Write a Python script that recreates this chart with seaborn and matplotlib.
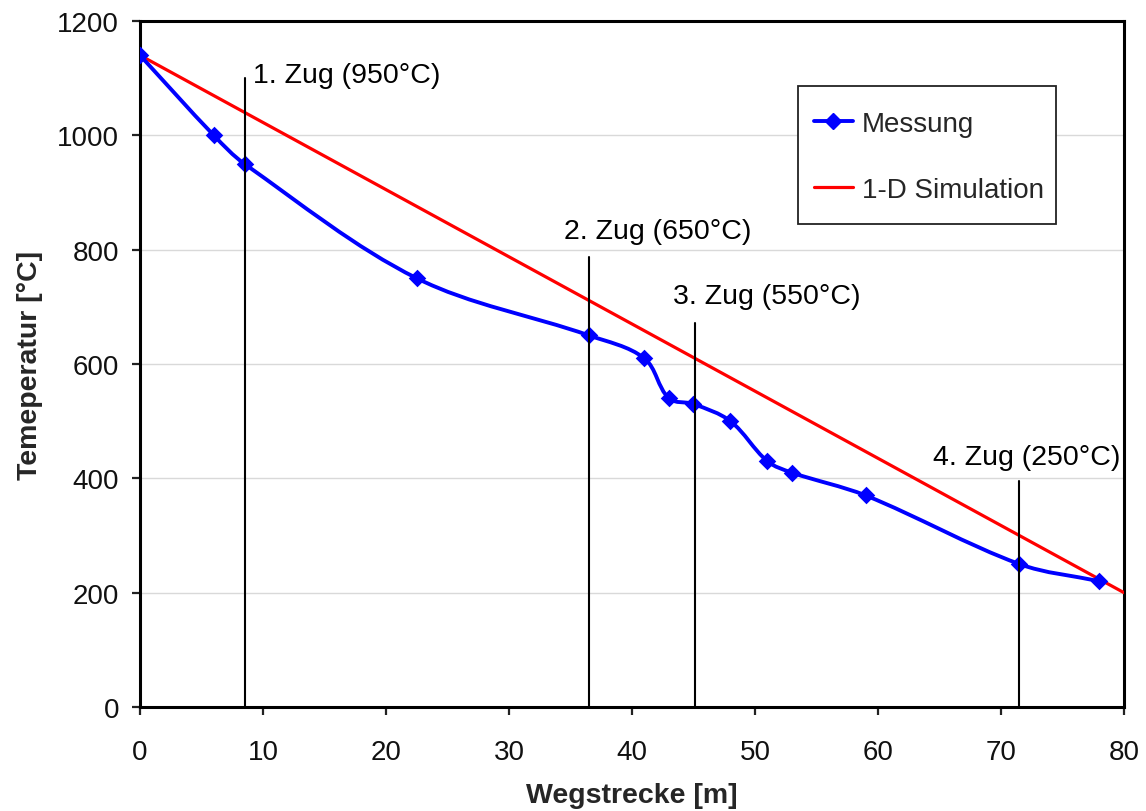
import math
import matplotlib
matplotlib.use("Agg")
import matplotlib.pyplot as plt
from matplotlib.path import Path
from matplotlib.patches import PathPatch, Rectangle
from matplotlib.lines import Line2D
import pandas as pd
import seaborn as sns

# Messung: Wegstrecke [m] und Temperatur [°C]
weg_mess = [0, 6, 8.5, 22.5, 36.5, 41, 43, 45, 48, 51, 53, 59, 71.5, 78]
temp_mess = [1140, 1000, 950, 750, 650, 610, 540, 530, 500, 430, 410, 370, 250, 220]

# 1-D Simulation (linearer Verlauf)
weg_sim = [0, 80]
temp_sim = [1140, 200]

# Walzstiche (Züge)
zug_labels = ["1. Zug (950°C)", "2. Zug (650°C)", "3. Zug (550°C)", "4. Zug (250°C)"]
zug_weg = [8.5, 36.5, 45.1, 71.5]
zug_top = [1100, 788, 672, 395]
zug_text_x = [9.2, 34.5, 43.3, 64.5]
zug_text_y = [1106, 833, 719, 437]

x_ticks = list(range(0, 81, 10))
y_ticks = list(range(0, 1201, 200))

sns.set_theme(style="white")
plt.rcParams["font.family"] = ["Liberation Sans", "DejaVu Sans"]

fig = plt.figure(figsize=(11.46, 8.12), dpi=100)
ax = fig.add_axes([0.12216, 0.12808, 0.85864, 0.84483])
ax.set_xlim(0, 80)
ax.set_ylim(0, 1200)

df_sim = pd.DataFrame({"weg": weg_sim, "temp": temp_sim})
df_mess = pd.DataFrame({"weg": weg_mess, "temp": temp_mess})

blue = "#0000ff"
red = "#ff0000"

# Simulation als Gerade
sns.lineplot(data=df_sim, x="weg", y="temp", color=red, linewidth=2.3, ax=ax, zorder=3)

# Geglättete Messkurve: kubische Bezier-Segmente durch die Messpunkte,
# Tangenten aus den Nachbarpunkten, Kontrollabstand = 1/3 der Segmentlänge
sx = 984 / 80.0
sy = 686 / 1200.0
pts = [(x * sx, y * sy) for x, y in zip(weg_mess, temp_mess)]
n = len(pts)


def unit_tangent(i):
    a = pts[max(i - 1, 0)]
    b = pts[min(i + 1, n - 1)]
    dx, dy = b[0] - a[0], b[1] - a[1]
    d = math.hypot(dx, dy)
    return dx / d, dy / d


tangents = [unit_tangent(i) for i in range(n)]
verts = [pts[0]]
codes = [Path.MOVETO]
for i in range(n - 1):
    p1, p2 = pts[i], pts[i + 1]
    seg = math.hypot(p2[0] - p1[0], p2[1] - p1[1]) / 3.0
    t1, t2 = tangents[i], tangents[i + 1]
    c1 = (p1[0] + t1[0] * seg, p1[1] + t1[1] * seg)
    c2 = (p2[0] - t2[0] * seg, p2[1] - t2[1] * seg)
    verts += [c1, c2, p2]
    codes += [Path.CURVE4, Path.CURVE4, Path.CURVE4]
verts = [(vx / sx, vy / sy) for vx, vy in verts]
curve = PathPatch(Path(verts, codes), facecolor="none", edgecolor=blue,
                  linewidth=2.8, zorder=4, transform=ax.transData,
                  capstyle="round", joinstyle="round")
ax.add_patch(curve)

sns.scatterplot(data=df_mess, x="weg", y="temp", marker="D", s=80,
                color=blue, edgecolor=blue, linewidth=0, ax=ax, zorder=5)

# Markierung der Züge
for xv, top, lab, tx, ty in zip(zug_weg, zug_top, zug_labels, zug_text_x, zug_text_y):
    ax.plot([xv, xv], [0, top], color="black", linewidth=1.5, zorder=6)
    ax.text(tx, ty, lab, fontsize=20.5, color="black", ha="left", va="center", zorder=7)

ax.set_xticks(x_ticks)
ax.set_yticks(y_ticks)
ax.set_xticklabels([str(v) for v in x_ticks])
ax.set_yticklabels([str(v) for v in y_ticks])

ax.yaxis.grid(True, color="#d9d9d9", linewidth=1.0, zorder=0)
ax.xaxis.grid(False)
ax.set_axisbelow(True)

for side in ["left", "bottom", "top", "right"]:
    ax.spines[side].set_visible(True)
    ax.spines[side].set_color("black")
    ax.spines[side].set_linewidth(2.2)

ax.tick_params(axis="both", direction="out", length=6, width=1.6, color="#222222",
               labelsize=20, labelcolor="#111111")
ax.tick_params(axis="x", pad=17)
ax.tick_params(axis="y", pad=9)
ax.tick_params(bottom=True, left=True, top=False, right=False)

ax.set_xlabel("Wegstrecke [m]", fontsize=20.5, fontweight="bold", labelpad=12)
ax.set_ylabel("Temeperatur [°C]", fontsize=20.5, fontweight="bold", labelpad=10)

# Legende mit eigenem Rahmen
legend_box = Rectangle((0.6687, 0.7041), 0.2622, 0.2011, transform=ax.transAxes,
                       facecolor="white", edgecolor="#222222", linewidth=1.3, zorder=8)
ax.add_patch(legend_box)

handles = [
    Line2D([0], [0], color=blue, linewidth=2.8, marker="D", markersize=8,
           markerfacecolor=blue, markeredgecolor=blue),
    Line2D([0], [0], color=red, linewidth=2.3),
]
leg = ax.legend(handles, ["Messung", "1-D Simulation"], loc="upper left",
                bbox_to_anchor=(0.685, 0.8687), fontsize=20, frameon=False,
                borderpad=0.0, labelspacing=1.42, handlelength=1.4,
                handletextpad=0.32, borderaxespad=0.0)
leg.set_zorder(9)

fig.savefig("out.png", dpi=100, facecolor="white")
